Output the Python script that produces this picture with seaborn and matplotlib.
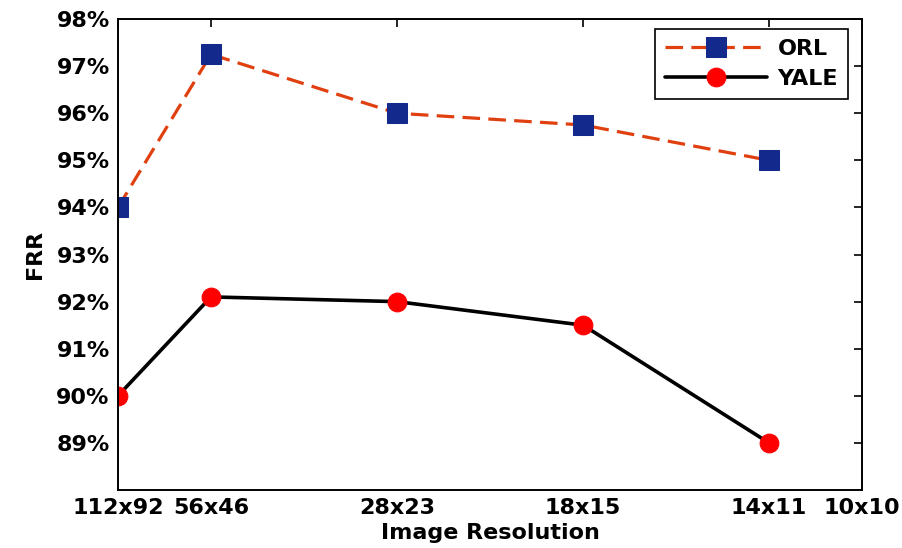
import matplotlib
matplotlib.use("Agg")
import matplotlib.pyplot as plt
import seaborn as sns
import pandas as pd
from matplotlib.ticker import FuncFormatter

# Data
resolutions = ["112x92", "56x46", "28x23", "18x15", "14x11", "10x10"]
tick_positions = [1, 2, 4, 6, 8, 9]
point_positions = [1, 2, 4, 6, 8]
orl_frr = [94.0, 97.25, 96.0, 95.75, 95.0]
yale_frr = [90.0, 92.1, 92.0, 91.5, 89.0]


def main():
    sns.set_style("white")
    plt.rcParams["font.family"] = ["DejaVu Sans"]
    plt.rcParams["font.weight"] = "bold"
    plt.rcParams["text.color"] = "black"
    plt.rcParams["axes.labelcolor"] = "black"
    plt.rcParams["xtick.color"] = "black"
    plt.rcParams["ytick.color"] = "black"

    df = pd.DataFrame({"x": point_positions, "ORL": orl_frr, "YALE": yale_frr})

    fig = plt.figure(figsize=(9.02, 5.48), dpi=100)
    ax = fig.add_axes([0.1308, 0.1058, 0.8249, 0.8595])

    sns.lineplot(
        data=df, x="x", y="ORL", ax=ax, label="ORL",
        color="#e0400f", linestyle=(0, (5.5, 2.6)), linewidth=2.3,
        marker="s", markersize=15, markerfacecolor="#13298c",
        markeredgecolor="#13298c",
    )
    sns.lineplot(
        data=df, x="x", y="YALE", ax=ax, label="YALE",
        color="black", linestyle="-", linewidth=2.6,
        marker="o", markersize=13.5, markerfacecolor="#ff0000",
        markeredgecolor="#ff0000",
    )

    ax.set_xlim(1, 9)
    ax.set_ylim(88, 98)
    ax.set_xticks(tick_positions)
    ax.set_xticklabels(resolutions)
    ax.set_yticks(range(89, 99))
    ax.yaxis.set_major_formatter(FuncFormatter(lambda v, p: f"{int(v)}%"))

    ax.tick_params(direction="in", length=6, width=1.2, top=True, right=True,
                   labelsize=16, pad=6)
    for lbl in ax.get_xticklabels() + ax.get_yticklabels():
        lbl.set_fontweight("bold")
    for spine in ax.spines.values():
        spine.set_color("black")
        spine.set_linewidth(1.4)

    ax.set_xlabel("Image Resolution", fontsize=16, fontweight="bold", labelpad=3)
    ax.set_ylabel("FRR", fontsize=16, fontweight="bold", labelpad=8)

    leg = ax.legend(loc="upper right", bbox_to_anchor=(0.981, 0.979),
                    borderaxespad=0, fontsize=16, handlelength=4.6,
                    handletextpad=0.45, borderpad=0.45, labelspacing=0.45,
                    fancybox=False, framealpha=1)
    leg.get_frame().set_edgecolor("black")
    leg.get_frame().set_linewidth(1.2)
    for t in leg.get_texts():
        t.set_fontweight("bold")

    fig.savefig("out.png", dpi=100)


if __name__ == "__main__":
    main()
